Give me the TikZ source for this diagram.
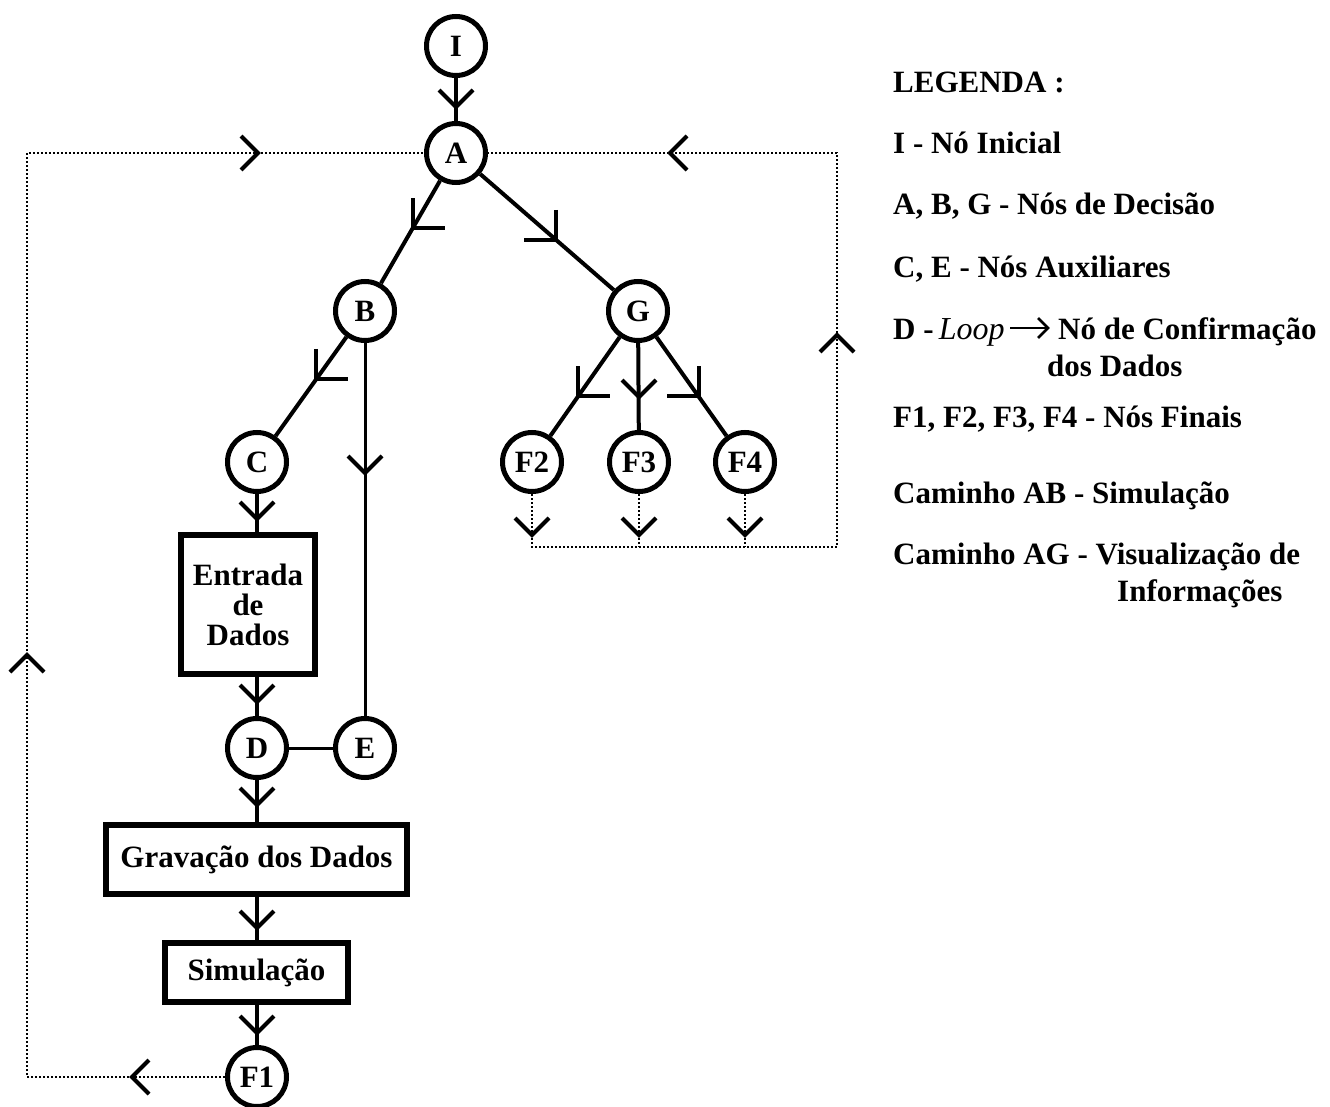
\documentclass[tikz,border=0pt]{standalone}
\usepackage{fontspec}
\setmainfont{Liberation Serif}
\usetikzlibrary{calc}
\begin{document}
\begin{tikzpicture}[x=1pt,y=-1pt,
  nd/.style={circle,draw,line width=5pt,minimum size=59pt,inner sep=0pt,font=\fontsize{31}{30}\selectfont\bfseries},
  bx/.style={rectangle,draw,line width=6pt,inner sep=0pt,font=\fontsize{31}{30}\selectfont\bfseries,align=center},
  conn/.style={line width=4pt},
  thinconn/.style={line width=3pt},
  dotl/.style={line width=2pt,dash pattern=on 2pt off 2pt},
  leg/.style={anchor=base west,inner sep=0pt,font=\fontsize{31}{36}\selectfont\bfseries},
  chev/.pic={\draw[line width=4pt] (-17,-17) -- (0,0) -- (17,-17);},
  lhr/.pic={\draw[line width=4pt] (0,-30) -- (0,0) -- (32,0);},
  lhl/.pic={\draw[line width=4pt] (0,-30) -- (0,0) -- (-32,0);}
  ]
\path[use as bounding box] (0,0) rectangle (1330,1107);

% nodes
\node[nd] (I) at (456,46) {I};
\node[nd] (A) at (456,153) {A};
\node[nd] (B) at (365,311) {B};
\node[nd] (G) at (638,311) {G};
\node[nd] (C) at (257,462) {C};
\node[nd] (F2) at (532,462) {F2};
\node[nd] (F3) at (639,462) {F3};
\node[nd] (F4) at (745,462) {F4};
\node[bx,minimum width=134pt,minimum height=139pt] (ent) at (248,604.5) {Entrada\\de\\Dados};
\node[nd] (D) at (257,748) {D};
\node[nd] (E) at (365,748) {E};
\node[bx,minimum width=301pt,minimum height=69pt] (grav) at (256.5,859.5) {Gravação dos Dados};
\node[bx,minimum width=183pt,minimum height=59pt] (sim) at (256.5,972.5) {Simulação};
\node[nd] (F1) at (257,1077) {F1};

% solid connectors
\draw[conn] (I) -- (A);
\draw[conn] (A) -- (B);
\draw[conn] (A) -- (G);
\draw[conn] (B) -- (C);
\draw[thinconn] (B) -- (E);
\draw[conn] (G) -- (F2);
\draw[conn] (G) -- (F3);
\draw[conn] (G) -- (F4);
\draw[conn] (C) -- (C |- ent.north);
\draw[conn] (D |- ent.south) -- (D);
\draw[thinconn] (D) -- (E);
\draw[conn] (D) -- (D |- grav.north);
\draw[conn] (F1 |- grav.south) -- (F1 |- sim.north);
\draw[conn] (F1 |- sim.south) -- (F1);

% dotted loops
\coordinate (LL) at (27,1077);
\coordinate (UL) at (27,153);
\coordinate (R2) at (532,547);
\coordinate (R3) at (639,547);
\coordinate (R4) at (745,547);
\coordinate (RR) at (837,547);
\coordinate (UR) at (837,153);
\draw[dotl] (F1) -- (LL) -- (UL) -- (A);
\draw[dotl] (F2) -- (R2) -- (RR) -- (UR) -- (A);
\draw[dotl] (F3) -- (R3);
\draw[dotl] (F4) -- (R4);

% arrowheads
\pic at (456,107) {chev};
\pic at (365,473) {chev};
\pic at (639,397) {chev};
\pic at (257,519) {chev};
\pic at (257,702) {chev};
\pic at (257,805) {chev};
\pic at (257,928) {chev};
\pic at (257,1033) {chev};
\pic at (532,535) {chev};
\pic at (639,535) {chev};
\pic at (745,535) {chev};
\pic[rotate=-90] at (132,1077) {chev};
\pic[rotate=180] at (27,655) {chev};
\pic[rotate=90] at (258,153) {chev};
\pic[rotate=-90] at (670,153) {chev};
\pic[rotate=180] at (837,335) {chev};
\pic at ($(A)!0.475!(B)$) {lhr};
\pic at ($(A)!0.55!(G)$) {lhl};
\pic at ($(B)!0.45!(C)$) {lhr};
\pic at ($(G)!0.566!(F2)$) {lhr};
\pic at ($(G)!0.566!(F4)$) {lhl};

% legend
\node[leg] (l1) at (893,93) {LEGENDA :};
\node[leg] (l2) at (893,154) {I - Nó Inicial};
\node[leg] (l3) at (893,215) {A, B, G - Nós de Decisão};
\node[leg] (l4) at (893,277) {C, E - Nós Auxiliares};
\node[leg] (l5) at (893,339) {D -\,{\fontsize{32}{36}\selectfont\itshape\mdseries Loop}};
\coordinate (arS) at (1010,328);
\coordinate (arE) at (1048,328);
\draw[line width=2pt] (arS) -- (arE);
\draw[line width=2.5pt] ($(arE)+(-10,-10)$) -- (arE) -- ($(arE)+(-10,10)$);
\node[leg] (l5b) at (1058,339) {Nó de Confirmação};
\node[leg] (l6) at (1047,376) {dos Dados};
\node[leg] (l7) at (893,427) {F1, F2, F3, F4 - Nós Finais};
\node[leg] (l8) at (893,503) {Caminho AB - Simulação};
\node[leg] (l9) at (893,564) {Caminho AG - Visualização de};
\node[leg] (l10) at (1117,601) {Informações};
\end{tikzpicture}
\end{document}
